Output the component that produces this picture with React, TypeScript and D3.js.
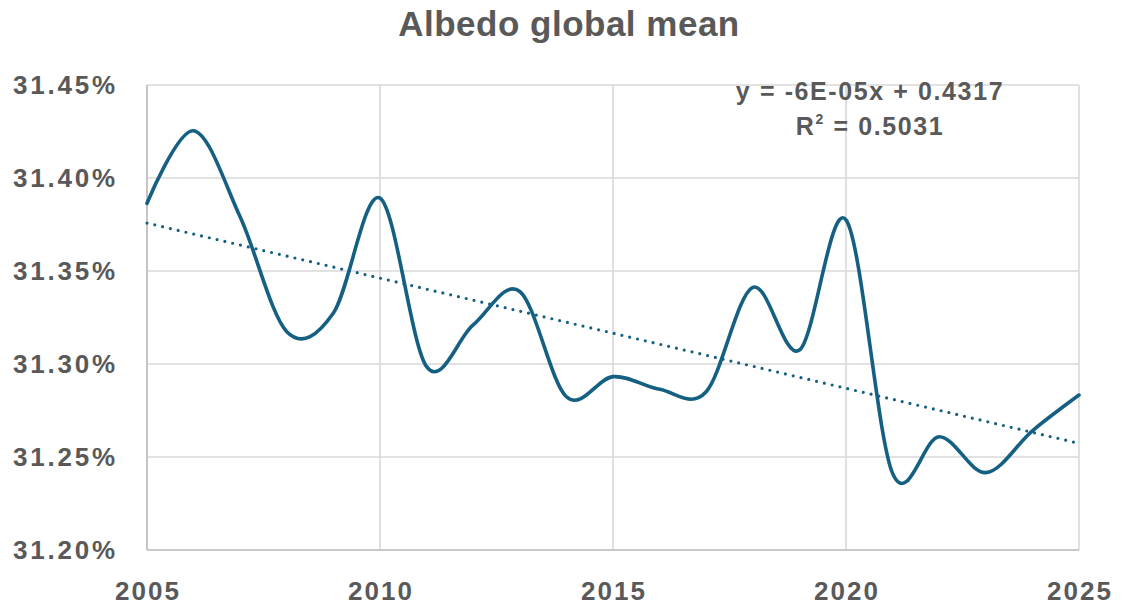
import React from "react";
import * as d3 from "d3";

const years: number[] = [2005, 2006, 2007, 2008, 2009, 2010, 2011, 2012, 2013, 2014, 2015, 2016, 2017, 2018, 2019, 2020, 2021, 2022, 2023, 2024, 2025];
const albedo: number[] = [31.3864, 31.4254, 31.379, 31.3174, 31.3274, 31.3892, 31.2986, 31.321, 31.339, 31.2824, 31.2932, 31.2864, 31.2851, 31.3412, 31.3075, 31.3775, 31.2412, 31.2609, 31.2416, 31.2641, 31.2833];
const xTicks: number[] = [2005, 2010, 2015, 2020, 2025];
const yTicks: number[] = [31.2, 31.25, 31.3, 31.35, 31.4, 31.45];
const title = "Albedo global mean";
const eqLine1 = "y = -6E-05x + 0.4317";
const eqLine2 = " = 0.5031";

const W = 1143, H = 605;
const M = { left: 147, right: 1079, top: 85, bottom: 550 };
const LINE = "#156082";
const TEXT = "#595959";
const GRID = "#d9d9d9";
const FONT = "'Liberation Sans', Arial, sans-serif";

export default function App() {
  const x = d3.scaleLinear().domain([2005, 2025]).range([M.left, M.right]);
  const y = d3.scaleLinear().domain([31.2, 31.45]).range([M.bottom, M.top]);

  const pts: [number, number][] = years.map((yr, i) => [yr, albedo[i]]);
  const line = d3
    .line<[number, number]>()
    .x((d) => x(d[0]))
    .y((d) => y(d[1]))
    .curve(d3.curveCardinal.tension(0));

  // least-squares trend
  const mx = d3.mean(years)!;
  const my = d3.mean(albedo)!;
  let sxy = 0, sxx = 0;
  years.forEach((yr, i) => {
    sxy += (yr - mx) * (albedo[i] - my);
    sxx += (yr - mx) * (yr - mx);
  });
  const slope = sxy / sxx;
  const icpt = my - slope * mx;
  const trend: [number, number][] = [
    [2005, icpt + slope * 2005],
    [2025, icpt + slope * 2025],
  ];
  const trendLine = d3
    .line<[number, number]>()
    .x((d) => x(d[0]))
    .y((d) => y(d[1]));

  return (
    <svg width={W} height={H} style={{ position: "absolute", left: 0, top: 0, background: "#fff" }}>
      <rect x={0} y={0} width={W} height={H} fill="#fff" />
      <text x={569} y={36} textAnchor="middle" fontFamily={FONT} fontWeight="bold" fontSize={35} letterSpacing={0.5} fill={TEXT}>
        {title}
      </text>
      {/* grid */}
      {yTicks.map((t) => (
        <line key={"gy" + t} x1={M.left} x2={M.right} y1={y(t)} y2={y(t)} stroke={GRID} strokeWidth={1.6} />
      ))}
      {xTicks.map((t) => (
        <line key={"gx" + t} x1={x(t)} x2={x(t)} y1={M.top} y2={M.bottom} stroke={GRID} strokeWidth={1.6} />
      ))}
      <line x1={M.left} x2={M.left} y1={M.top} y2={M.bottom} stroke="#bfbfbf" strokeWidth={1.6} />
      <line x1={M.left} x2={M.right} y1={M.bottom} y2={M.bottom} stroke="#bfbfbf" strokeWidth={1.6} />
      {/* y labels */}
      {yTicks.map((t) => (
        <text key={"ly" + t} x={118} y={y(t) + 9} textAnchor="end" fontFamily={FONT} fontWeight="bold" fontSize={26} letterSpacing={2.8} fill={TEXT}>
          {d3.format(".2f")(t) + "%"}
        </text>
      ))}
      {/* x labels */}
      {xTicks.map((t) => (
        <text key={"lx" + t} x={x(t) + 1} y={600} textAnchor="middle" fontFamily={FONT} fontWeight="bold" fontSize={26} letterSpacing={2} fill={TEXT}>
          {String(t)}
        </text>
      ))}
      {/* trend */}
      <path d={trendLine(trend) || ""} fill="none" stroke={LINE} strokeWidth={3.2} strokeDasharray="0 8" strokeLinecap="round" />
      {/* series */}
      <path d={line(pts) || ""} fill="none" stroke={LINE} strokeWidth={3.6} strokeLinejoin="round" strokeLinecap="round" />
      {/* equation */}
      <text x={870} y={100} textAnchor="middle" fontFamily={FONT} fontWeight="bold" fontSize={25} letterSpacing={1.6} fill={TEXT}>
        {eqLine1}
      </text>
      <text x={870} y={135} textAnchor="middle" fontFamily={FONT} fontWeight="bold" fontSize={25} letterSpacing={1.6} fill={TEXT}>
        R<tspan dy={-11} fontSize={14}>2</tspan>
        <tspan dy={11}>{eqLine2}</tspan>
      </text>
    </svg>
  );
}
